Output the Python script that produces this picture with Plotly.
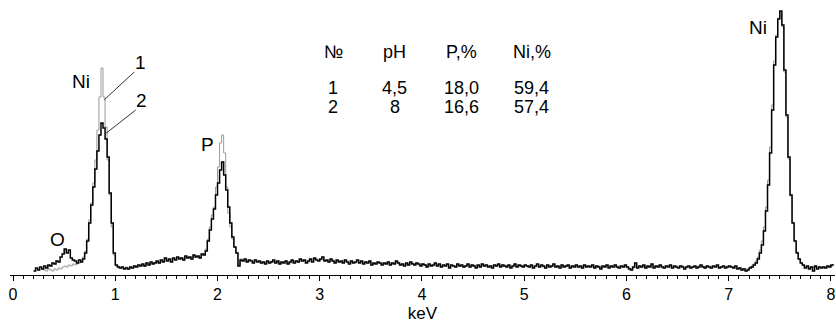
import plotly.graph_objects as go

# ---------------- data (heights) ----------------
energy_start = 0.20   # keV, first channel
energy_step = 0.02    # keV per channel

# series 2 (pH 8) - black
counts_2 = [
    # 0.20 - 1.00
    4, 7, 5, 8, 6, 9, 7, 10, 9, 12, 11, 14, 13, 18, 21, 26, 22, 25, 17, 15,
    14, 12, 15, 13, 16, 22, 34, 52, 70, 88, 106, 124, 140, 152, 147, 136, 118, 82, 52, 22,
    10,
    # 1.02 - 1.86
    8, 7, 8, 6, 7, 6, 8, 7, 9, 8, 10, 9, 11, 9, 12, 10, 13, 11, 12, 14,
    12, 15, 13, 17, 14, 16, 13, 17, 15, 18, 16, 17, 15, 19, 17, 18, 16, 20, 18, 19,
    17, 21, 20,
    # 1.88 - 2.20
    24, 34, 45, 56, 66, 80, 92, 105, 113, 100, 85, 68, 52, 38, 28, 22, 9,
    # 2.22 - 3.00
    15, 14, 16, 13, 15, 14, 12, 15, 13, 14, 12, 13, 11, 14, 12, 13, 15, 12, 14, 11,
    13, 12, 14, 11, 13, 15, 12, 14, 13, 16, 14, 15, 12, 14, 16, 13, 17, 15, 14, 16,
    # 3.02 - 4.00
    18, 14, 15, 13, 16, 14, 12, 15, 13, 14, 12, 15, 13, 11, 14, 12, 13, 15, 12, 14,
    11, 13, 12, 14, 10, 12, 11, 13, 12, 10, 12, 11, 13, 10, 12, 11, 14, 12, 10, 11,
    9, 12, 10, 13, 11, 10, 12, 11, 9, 11,
    # 4.02 - 5.00
    10, 8, 11, 9, 10, 12, 9, 11, 8, 10, 9, 11, 7, 10, 9, 8, 11, 9, 10, 8,
    9, 11, 8, 10, 9, 7, 10, 8, 11, 9, 10, 8, 9, 7, 10, 9, 11, 8, 10, 9,
    8, 10, 7, 9, 11, 8, 10, 9, 8, 10,
    # 5.02 - 6.00
    9, 8, 10, 7, 9, 11, 8, 10, 9, 7, 10, 8, 9, 11, 8, 9, 7, 10, 8, 9,
    10, 7, 9, 8, 10, 8, 9, 7, 10, 8, 9, 8, 10, 7, 9, 8, 6, 9, 8, 10,
    7, 9, 8, 10, 8, 7, 9, 8, 10, 8,
    # 6.02 - 7.00
    6, 5, 8, 12, 7, 9, 8, 10, 7, 9, 8, 11, 7, 9, 8, 10, 8, 7, 9, 8,
    10, 7, 9, 8, 7, 9, 8, 6, 8, 9, 7, 8, 9, 7, 8, 10, 8, 7, 9, 8,
    7, 9, 8, 10, 7, 8, 9, 7, 8, 9,
    # 7.02 - 7.20
    8, 7, 9, 6, 7, 5, 6, 4, 5, 7,
    # 7.22 - 7.70
    8, 10, 12, 16, 22, 30, 44, 64, 90, 122, 165, 210, 238, 256, 264, 250, 205, 160, 118, 80,
    52, 34, 22, 16, 12,
    # 7.72 - 8.02
    10, 7, 9, 6, 8, 4, 9, 6, 8, 7, 8, 7, 9, 8, 10, 11,
]

# series 1 (pH 4,5) - grey
counts_1 = [
    # 0.20 - 1.00
    None, None, None, None, None, 5, 4, 6, 5, 4, 6, 5, 7, 6, 8, 9, 8, 10, 9, 11,
    10, 11, 12, 14, 18, 24, 36, 55, 72, 92, 115, 145, 178, 207, 178, 148, 115, 80, 48, 20,
    9,
    # 1.02 - 1.86
    9, 7, 7, 6, 8, 6, 7, 8, 8, 9, 9, 10, 10, 9, 11, 11, 12, 12, 13, 13,
    12, 14, 14, 16, 15, 15, 14, 16, 16, 17, 17, 16, 16, 18, 18, 17, 17, 19, 19, 18,
    18, 20, 21,
    # 1.88 - 2.20
    26, 36, 48, 60, 68, 88, 108, 132, 140, 122, 88, 62, 48, 36, 28, 22, 10,
    # 2.22 - 3.00
    16, 15, 15, 14, 14, 15, 13, 14, 14, 13, 13, 12, 12, 13, 13, 14, 14, 13, 13, 12,
    12, 13, 13, 12, 12, 14, 13, 13, 14, 15, 15, 14, 13, 13, 15, 14, 16, 16, 15, 15,
    # 3.02 - 4.00
    16, 15, 14, 14, 15, 15, 13, 14, 14, 13, 13, 14, 14, 12, 13, 13, 12, 14, 13, 13,
    12, 12, 13, 13, 11, 11, 12, 12, 12, 11, 11, 12, 12, 11, 11, 12, 13, 13, 11, 10,
    10, 11, 11, 12, 12, 11, 11, 10, 10, 11,
    # 4.02 - 5.00
    10, 9, 10, 10, 9, 11, 10, 10, 9, 9, 10, 10, 8, 9, 9, 9, 10, 10, 9, 9,
    9, 10, 9, 9, 10, 8, 9, 9, 10, 10, 9, 9, 8, 8, 9, 10, 10, 9, 9, 10,
    9, 9, 8, 8, 10, 9, 9, 10, 9, 9,
    # 5.02 - 6.00
    9, 9, 9, 8, 8, 10, 9, 9, 8, 8, 9, 9, 8, 10, 9, 8, 8, 9, 9, 8,
    9, 8, 8, 9, 9, 9, 8, 8, 9, 9, 8, 9, 9, 8, 8, 9, 7, 8, 9, 9,
    8, 8, 9, 9, 9, 8, 8, 9, 9, 8,
    # 6.02 - 7.00
    7, 6, 7, 10, 8, 8, 9, 9, 8, 8, 9, 10, 8, 8, 9, 9, 9, 8, 8, 9,
    9, 8, 8, 9, 8, 8, 9, 7, 8, 8, 8, 8, 8, 8, 9, 9, 9, 8, 8, 9,
    8, 8, 9, 9, 8, 8, 8, 8, 9, 8,
    # 7.02 - 7.20
    8, 8, 8, 7, 7, 6, 6, 6, 6, 8,
    # 7.22 - 7.70
    9, 11, 14, 18, 25, 34, 48, 68, 95, 128, 170, 214, 240, 257, 263, 248, 203, 158, 116, 79,
    52, 34, 23, 16, 12,
    # 7.72 - 8.02
    10, 8, 8, 7, 8, 8, 8, 7, 8, 8, 8, 8, 8, 9, 9, 9,
]

energy = [round(energy_start + energy_step * i, 2) for i in range(len(counts_2))]

tick_values = [0, 1, 2, 3, 4, 5, 6, 7, 8]
tick_labels = ["0", "1", "2", "3", "4", "5", "6", "7", "8"]

table_columns = ["№", "pH", "P,%", "Ni,%"]
table_row_1 = ["1", "4,5", "18,0", "59,4"]
table_row_2 = ["2", "8", "16,6", "57,4"]

peak_labels = ["Ni", "P", "O", "Ni"]
peak_label_x = [0.66, 1.905, 0.43, 7.285]
peak_label_y = [194, 131, 36, 248]

# ---------------- figure ----------------
FONT = "Liberation Sans, Arial, sans-serif"

fig = go.Figure()
fig.add_trace(go.Scatter(x=energy, y=counts_1, mode="lines", line_shape="hv",
                         line=dict(color="#9a9a9a", width=1), name="1",
                         connectgaps=False))
fig.add_trace(go.Scatter(x=energy, y=counts_2, mode="lines", line_shape="hv",
                         line=dict(color="#000000", width=1.5), name="2"))

annotations = []
for t, x, y in zip(peak_labels, peak_label_x, peak_label_y):
    annotations.append(dict(x=x, y=y, xref="x", yref="y", text=t, showarrow=False,
                            font=dict(family=FONT, size=19, color="black")))

# curve numbers
annotations.append(dict(x=1.245, y=213, xref="x", yref="y", text="1", showarrow=False,
                        font=dict(family=FONT, size=19, color="black")))
annotations.append(dict(x=1.255, y=175, xref="x", yref="y", text="2", showarrow=False,
                        font=dict(family=FONT, size=19, color="black")))

# table
col_x = [3.13, 3.735, 4.39, 5.075]
row_y = [223, 187, 168]
for r, row in enumerate([table_columns, table_row_1, table_row_2]):
    for c, t in enumerate(row):
        annotations.append(dict(x=col_x[c], y=row_y[r], xref="x", yref="y", text=t,
                                showarrow=False,
                                font=dict(family=FONT, size=18, color="black")))

shapes = [
    dict(type="line", xref="x", yref="y", x0=0.89, y0=175, x1=1.185, y1=203,
         line=dict(color="#333333", width=1)),
    dict(type="line", xref="x", yref="y", x0=0.90, y0=141, x1=1.20, y1=165,
         line=dict(color="#333333", width=1)),
]

fig.update_layout(
    width=836, height=323,
    margin=dict(l=10, r=1, t=0, b=48),
    paper_bgcolor="white", plot_bgcolor="white",
    showlegend=False,
    hovermode=False,
    annotations=annotations,
    shapes=shapes,
    xaxis=dict(
        range=[-0.03, 8.04],
        tickvals=tick_values, ticktext=tick_labels,
        showline=True, linecolor="black", linewidth=1,
        ticks="outside", ticklen=5, tickwidth=1, tickcolor="black",
        minor=dict(dtick=0.1, ticks="outside", ticklen=3, tickwidth=1, tickcolor="black"),
        showgrid=False, zeroline=False,
        tickfont=dict(family=FONT, size=16, color="black"),
        title=dict(text="keV", font=dict(family=FONT, size=17, color="black"), standoff=4),
    ),
    yaxis=dict(range=[0, 275], visible=False),
)

fig.write_html("out.html", config={"displayModeBar": False},
               post_script="document.body.style.margin='0px';")
